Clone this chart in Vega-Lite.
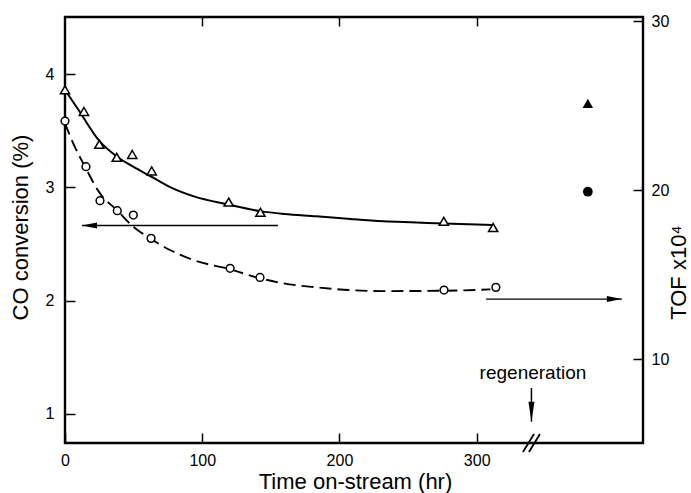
{
  "$schema": "https://vega.github.io/schema/vega-lite/v6.json",
  "width": 578,
  "height": 426,
  "autosize": {"type": "none"},
  "padding": {"left": 65, "top": 17, "right": 48, "bottom": 50},
  "background": "white",
  "config": {
    "view": {"stroke": "black", "strokeWidth": 2.4},
    "font": "Liberation Sans",
    "axis": {
      "domain": false, "grid": false, "labelFlush": false,
      "tickColor": "black", "tickWidth": 1.5,
      "labelColor": "black", "titleColor": "black",
      "labelFont": "Liberation Sans", "titleFont": "Liberation Sans",
      "labelFontSize": 16, "titleFontSize": 22, "titleFontWeight": "normal"
    }
  },
  "datasets": {
    "conv": [
      {"t": 0, "v": 3.86}, {"t": 13.8, "v": 3.67}, {"t": 25, "v": 3.38}, {"t": 37.7, "v": 3.265},
      {"t": 49, "v": 3.29}, {"t": 63.2, "v": 3.145}, {"t": 119.3, "v": 2.87}, {"t": 142.4, "v": 2.78},
      {"t": 276, "v": 2.7}, {"t": 312, "v": 2.645}
    ],
    "convfit": [
      {"t": 0, "v": 3.86}, {"t": 10, "v": 3.68}, {"t": 25, "v": 3.41}, {"t": 38, "v": 3.27},
      {"t": 50, "v": 3.18}, {"t": 62, "v": 3.1}, {"t": 77, "v": 3.0}, {"t": 94, "v": 2.92},
      {"t": 118, "v": 2.85}, {"t": 142, "v": 2.79}, {"t": 160, "v": 2.765}, {"t": 183, "v": 2.745},
      {"t": 208, "v": 2.72}, {"t": 232, "v": 2.7}, {"t": 256, "v": 2.69}, {"t": 276, "v": 2.68},
      {"t": 312, "v": 2.668}
    ],
    "tof": [
      {"t": 0, "v": 24.08}, {"t": 15.3, "v": 21.38}, {"t": 25.5, "v": 19.37}, {"t": 38.1, "v": 18.78},
      {"t": 49.8, "v": 18.52}, {"t": 62.7, "v": 17.14}, {"t": 120.3, "v": 15.37}, {"t": 142.1, "v": 14.83},
      {"t": 276.2, "v": 14.08}, {"t": 314, "v": 14.24}
    ],
    "toffit": [
      {"t": 0, "v": 23.95}, {"t": 6, "v": 22.76}, {"t": 14.6, "v": 21.38}, {"t": 25.5, "v": 19.8},
      {"t": 37.7, "v": 18.82}, {"t": 49.8, "v": 17.83}, {"t": 62, "v": 17.14}, {"t": 76.5, "v": 16.45},
      {"t": 93.5, "v": 15.86}, {"t": 120.3, "v": 15.31}, {"t": 142, "v": 14.78}, {"t": 159, "v": 14.48},
      {"t": 183.4, "v": 14.24}, {"t": 207.7, "v": 14.08}, {"t": 232, "v": 14.02}, {"t": 275.7, "v": 14.04},
      {"t": 310, "v": 14.12}
    ],
    "convArrow": [{"t": 155.2, "t2": 12.4, "v": 2.663}],
    "tofArrow": [{"t": 306.9, "t2": 405.8, "v": 13.55}],
    "regenArrow": [{"t": 339.9, "v": 1.229, "v2": 0.932}],
    "regenLabel": [{"t": 341, "v": 1.309, "label": "regeneration"}],
    "axisBreak": [
      {"t": 333.7, "t2": 341.8, "v": 0.665, "v2": 0.823},
      {"t": 338.1, "t2": 346.1, "v": 0.665, "v2": 0.823}
    ],
    "convAfter": [{"t": 381, "v": 3.741}],
    "tofAfter": [{"t": 381, "v": 19.9}]
  },
  "resolve": {"scale": {"y": "independent"}},
  "layer": [
    {
      "data": {"name": "convfit"},
      "mark": {"type": "line", "interpolate": "monotone", "color": "black", "strokeWidth": 2},
      "encoding": {
        "x": {"field": "t", "type": "quantitative",
          "scale": {"domain": [0, 421.2], "nice": false, "zero": false},
          "axis": {"orient": "bottom", "values": [0, 100, 200, 300], "offset": -10, "tickSize": 10, "labelPadding": 9,
            "title": "Time on-stream (hr)", "titleX": 290, "titleY": 55, "titleBaseline": "alphabetic", "titleAlign": "center"}},
        "y": {"field": "v", "type": "quantitative",
          "scale": {"domain": [0.744, 4.503], "nice": false, "zero": false},
          "axis": {"orient": "left", "values": [1, 2, 3, 4], "offset": -10, "tickSize": 10, "labelPadding": 11,
            "title": "CO conversion (%)", "titleAngle": 270, "titleX": -48, "titleY": 210,
            "titleBaseline": "alphabetic", "titleAlign": "center"}}
      }
    },
    {
      "data": {"name": "conv"},
      "mark": {"type": "point", "shape": "triangle-up", "filled": true, "fill": "white", "stroke": "black", "strokeWidth": 1.5, "size": 85, "opacity": 1},
      "encoding": {
        "x": {"field": "t", "type": "quantitative",
          "scale": {"domain": [0, 421.2], "nice": false, "zero": false},
          "axis": {"orient": "top", "values": [100, 200, 300], "offset": -9, "tickSize": 9, "labels": false, "title": null}},
        "y": {"field": "v", "type": "quantitative", "scale": {"domain": [0.744, 4.503], "nice": false, "zero": false}, "axis": null}
      }
    },
    {
      "data": {"name": "convArrow"},
      "mark": {"type": "rule", "color": "black", "strokeWidth": 1.3},
      "encoding": {
        "x": {"field": "t", "type": "quantitative", "axis": null},
        "x2": {"field": "t2"},
        "y": {"field": "v", "type": "quantitative", "scale": {"domain": [0.744, 4.503], "nice": false, "zero": false}, "axis": null}
      }
    },
    {
      "data": {"name": "convArrow"},
      "mark": {"type": "point", "shape": "M0,0L1,-0.2L1,0.2Z", "filled": true, "color": "black", "size": 900, "opacity": 1},
      "encoding": {
        "x": {"field": "t2", "type": "quantitative", "axis": null},
        "y": {"field": "v", "type": "quantitative", "scale": {"domain": [0.744, 4.503], "nice": false, "zero": false}, "axis": null}
      }
    },
    {
      "data": {"name": "regenLabel"},
      "mark": {"type": "text", "fontSize": 19, "font": "Liberation Sans", "align": "center", "baseline": "alphabetic", "color": "black"},
      "encoding": {
        "x": {"field": "t", "type": "quantitative", "axis": null},
        "y": {"field": "v", "type": "quantitative", "scale": {"domain": [0.744, 4.503], "nice": false, "zero": false}, "axis": null},
        "text": {"field": "label"}
      }
    },
    {
      "data": {"name": "regenArrow"},
      "mark": {"type": "rule", "color": "black", "strokeWidth": 1.5},
      "encoding": {
        "x": {"field": "t", "type": "quantitative", "axis": null},
        "y": {"field": "v", "type": "quantitative", "scale": {"domain": [0.744, 4.503], "nice": false, "zero": false}, "axis": null},
        "y2": {"field": "v2"}
      }
    },
    {
      "data": {"name": "regenArrow"},
      "mark": {"type": "point", "shape": "M0,0L-0.15,-1L0.15,-1Z", "filled": true, "color": "black", "size": 1600, "opacity": 1},
      "encoding": {
        "x": {"field": "t", "type": "quantitative", "axis": null},
        "y": {"field": "v2", "type": "quantitative", "scale": {"domain": [0.744, 4.503], "nice": false, "zero": false}, "axis": null}
      }
    },
    {
      "data": {"name": "axisBreak"},
      "mark": {"type": "rule", "color": "black", "strokeWidth": 1.8},
      "encoding": {
        "x": {"field": "t", "type": "quantitative", "axis": null},
        "x2": {"field": "t2"},
        "y": {"field": "v", "type": "quantitative", "scale": {"domain": [0.744, 4.503], "nice": false, "zero": false}, "axis": null},
        "y2": {"field": "v2"}
      }
    },
    {
      "data": {"name": "convAfter"},
      "mark": {"type": "point", "shape": "triangle-up", "filled": true, "color": "black", "size": 110, "opacity": 1},
      "encoding": {
        "x": {"field": "t", "type": "quantitative", "axis": null},
        "y": {"field": "v", "type": "quantitative", "scale": {"domain": [0.744, 4.503], "nice": false, "zero": false}, "axis": null}
      }
    },
    {
      "data": {"name": "toffit"},
      "mark": {"type": "line", "interpolate": "monotone", "color": "black", "strokeWidth": 1.9, "strokeDash": [12, 6]},
      "encoding": {
        "x": {"field": "t", "type": "quantitative", "axis": null},
        "y": {"field": "v", "type": "quantitative",
          "scale": {"domain": [5.03, 30.24], "nice": false, "zero": false},
          "axis": {"orient": "right", "values": [10, 20, 30], "offset": -10, "tickSize": 10, "labelPadding": 8,
            "title": "TOF x10⁴", "titleAngle": 270, "titleX": 52, "titleY": 255,
            "titleBaseline": "alphabetic", "titleAlign": "center"}}
      }
    },
    {
      "data": {"name": "tof"},
      "mark": {"type": "point", "shape": "circle", "filled": true, "fill": "white", "stroke": "black", "strokeWidth": 1.5, "size": 60, "opacity": 1},
      "encoding": {
        "x": {"field": "t", "type": "quantitative", "axis": null},
        "y": {"field": "v", "type": "quantitative", "scale": {"domain": [5.03, 30.24], "nice": false, "zero": false}, "axis": null}
      }
    },
    {
      "data": {"name": "tofArrow"},
      "mark": {"type": "rule", "color": "black", "strokeWidth": 1.3},
      "encoding": {
        "x": {"field": "t", "type": "quantitative", "axis": null},
        "x2": {"field": "t2"},
        "y": {"field": "v", "type": "quantitative", "scale": {"domain": [5.03, 30.24], "nice": false, "zero": false}, "axis": null}
      }
    },
    {
      "data": {"name": "tofArrow"},
      "mark": {"type": "point", "shape": "M0,0L-1,-0.2L-1,0.2Z", "filled": true, "color": "black", "size": 900, "opacity": 1},
      "encoding": {
        "x": {"field": "t2", "type": "quantitative", "axis": null},
        "y": {"field": "v", "type": "quantitative", "scale": {"domain": [5.03, 30.24], "nice": false, "zero": false}, "axis": null}
      }
    },
    {
      "data": {"name": "tofAfter"},
      "mark": {"type": "point", "shape": "circle", "filled": true, "color": "black", "size": 95, "opacity": 1},
      "encoding": {
        "x": {"field": "t", "type": "quantitative", "axis": null},
        "y": {"field": "v", "type": "quantitative", "scale": {"domain": [5.03, 30.24], "nice": false, "zero": false}, "axis": null}
      }
    }
  ]
}
